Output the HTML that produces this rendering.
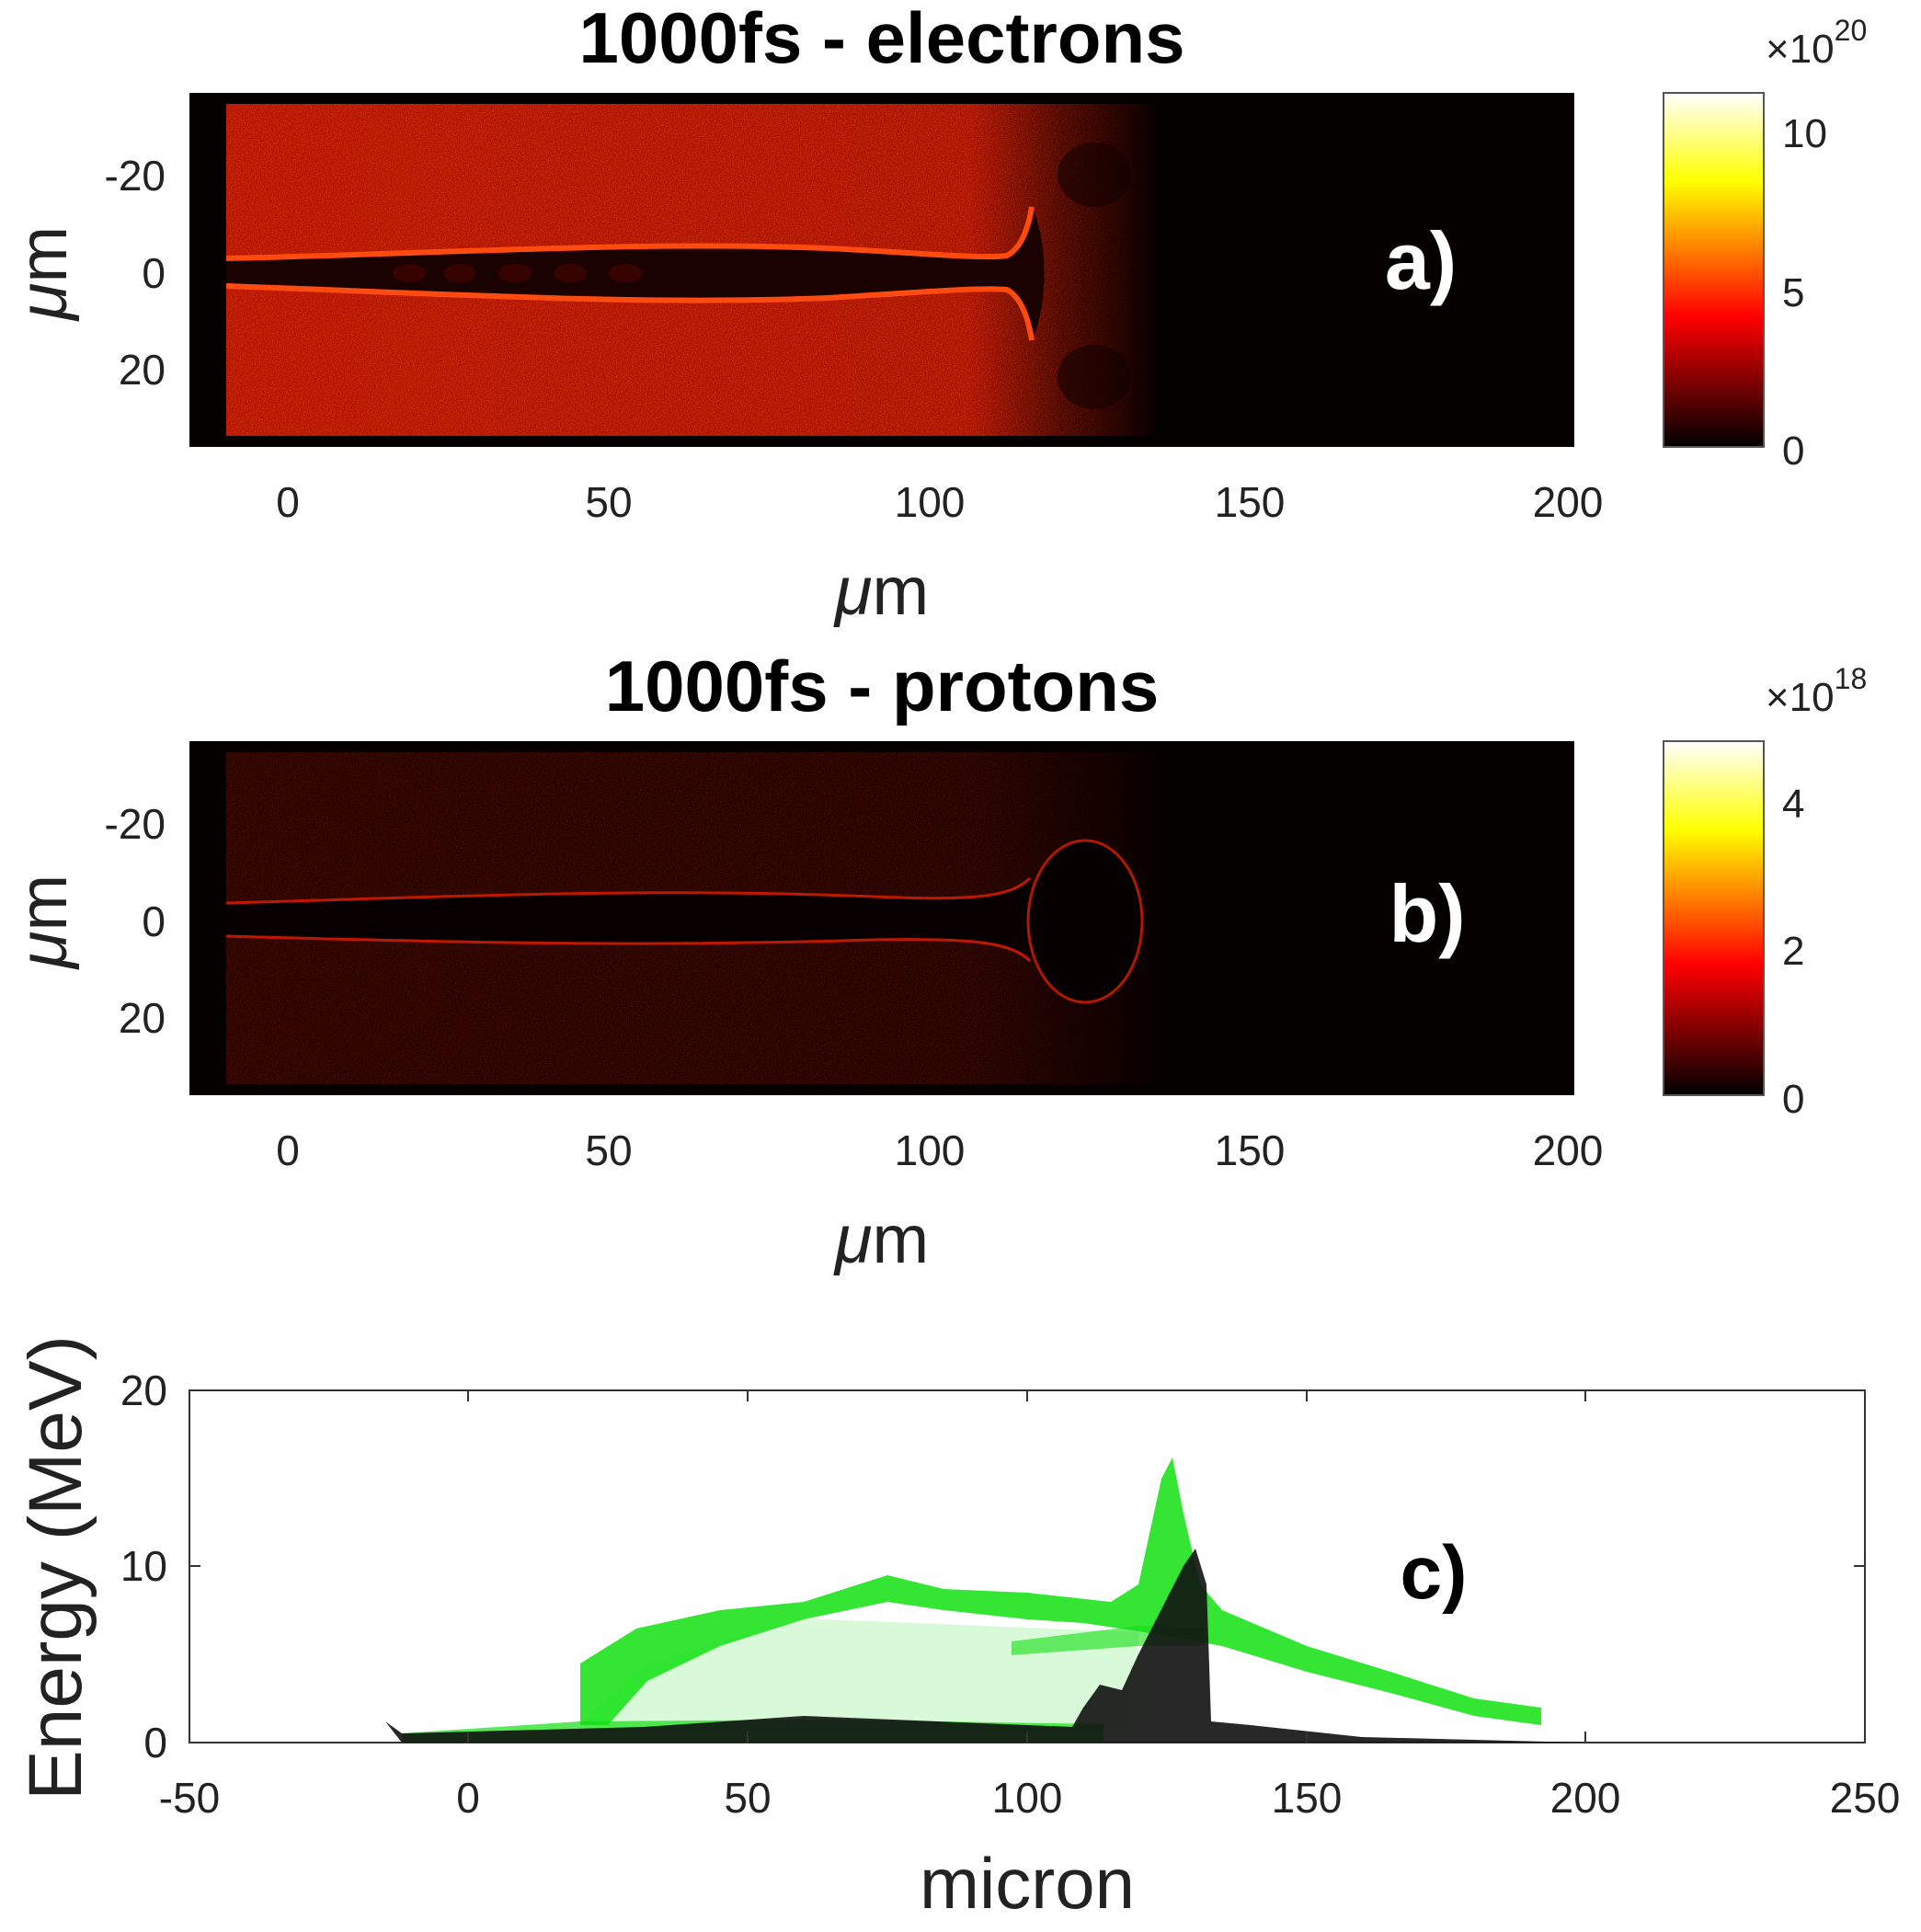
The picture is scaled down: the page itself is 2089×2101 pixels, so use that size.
<!DOCTYPE html>
<html><head><meta charset="utf-8"><style>
html,body{margin:0;padding:0;background:#fff;}
svg{display:block;font-family:"Liberation Sans",sans-serif;}
</style></head><body>
<svg width="2089" height="2101" viewBox="0 0 2089 2101" xmlns="http://www.w3.org/2000/svg">
<defs>
<linearGradient id="hot" x1="0" y1="1" x2="0" y2="0">
<stop offset="0" stop-color="#000"/><stop offset="0.37" stop-color="#f00"/><stop offset="0.75" stop-color="#ff0"/><stop offset="1" stop-color="#fff"/>
</linearGradient>
<linearGradient id="fadeE" x1="0" y1="0" x2="1" y2="0">
<stop offset="0" stop-color="#b41200"/><stop offset="0.8" stop-color="#a81000"/><stop offset="0.9" stop-color="#4a0600"/><stop offset="1" stop-color="#0a0000"/>
</linearGradient>
<linearGradient id="fadeP" x1="0" y1="0" x2="1" y2="0">
<stop offset="0" stop-color="#2a0300"/><stop offset="0.8" stop-color="#240200"/><stop offset="1" stop-color="#0a0000"/>
</linearGradient>
<linearGradient id="mg" x1="0" y1="0" x2="1" y2="0">
<stop offset="0" stop-color="#fff"/><stop offset="0.8" stop-color="#fff"/><stop offset="1" stop-color="#000"/>
</linearGradient>
<mask id="fm"><rect x="246" y="100" width="1010" height="1100" fill="url(#mg)"/></mask>
<filter id="noise" x="0" y="0" width="1" height="1">
<feTurbulence type="fractalNoise" baseFrequency="0.85" numOctaves="1" seed="4"/>
<feColorMatrix values="0 0 0 0 1  0 0 0 0 0.15  0 0 0 0 0.02  0 0 0 -2.5 1.5"/>
<feComposite in2="SourceGraphic" operator="in"/>
</filter>
</defs>

<!-- Panel a -->
<text x="959" y="68" font-size="78" font-weight="bold" text-anchor="middle">1000fs - electrons</text>
<rect x="206" y="101" width="1506" height="385" fill="#050000"/>
<rect x="246" y="113" width="1010" height="361" fill="url(#fadeE)"/>
<rect x="246" y="113" width="1010" height="361" fill="#000" filter="url(#noise)" opacity="0.45" mask="url(#fm)"/>
<!-- channel -->
<path d="M246,281 C500,275 700,262 900,270 C1000,275 1070,282 1095,278 C1110,270 1118,250 1122,225 C1140,260 1140,335 1122,370 C1118,345 1110,323 1095,315 C1070,312 1000,318 900,324 C700,332 500,320 246,311 Z" fill="#1a0200"/>
<ellipse cx="1190" cy="190" rx="40" ry="35" fill="#120100" opacity="0.6"/>
<ellipse cx="1190" cy="410" rx="40" ry="35" fill="#120100" opacity="0.6"/>
<path d="M246,281 C500,275 700,262 900,270 C1000,275 1070,282 1095,278 C1110,270 1118,250 1122,225" fill="none" stroke="#ff4a10" stroke-width="6"/>
<path d="M246,311 C500,320 700,332 900,324 C1000,318 1070,312 1095,315 C1110,323 1118,345 1122,370" fill="none" stroke="#ff4a10" stroke-width="6"/>
<g fill="#3a0400" opacity="0.9">
<ellipse cx="445" cy="297" rx="18" ry="10"/><ellipse cx="500" cy="297" rx="18" ry="10"/><ellipse cx="560" cy="297" rx="18" ry="10"/><ellipse cx="620" cy="297" rx="18" ry="10"/><ellipse cx="680" cy="297" rx="18" ry="10"/>
</g>
<text x="1545" y="314" font-size="88" font-weight="bold" fill="#fff" text-anchor="middle">a)</text>
<g font-size="46" fill="#222">
<text x="180" y="207" text-anchor="end">-20</text><text x="180" y="313" text-anchor="end">0</text><text x="180" y="418" text-anchor="end">20</text>
<text x="313" y="562" text-anchor="middle">0</text><text x="662" y="562" text-anchor="middle">50</text><text x="1011" y="562" text-anchor="middle">100</text><text x="1359" y="562" text-anchor="middle">150</text><text x="1705" y="562" text-anchor="middle">200</text>
</g>
<text x="959" y="668" font-size="74" text-anchor="middle" fill="#222"><tspan font-style="italic">μ</tspan>m</text>
<text transform="translate(72,297) rotate(-90)" font-size="74" text-anchor="middle" fill="#222"><tspan font-style="italic">μ</tspan>m</text>
<rect x="1809" y="101" width="109" height="385" fill="url(#hot)" stroke="#555" stroke-width="2"/>
<g font-size="44" fill="#222">
<text x="1938" y="160">10</text><text x="1938" y="333">5</text><text x="1938" y="505">0</text>
<text x="1920" y="68">×10<tspan font-size="32" dy="-24">20</tspan></text>
</g>

<!-- Panel b -->
<text x="959" y="773" font-size="78" font-weight="bold" text-anchor="middle">1000fs - protons</text>
<rect x="206" y="806" width="1506" height="385" fill="#050000"/>
<rect x="246" y="818" width="1010" height="361" fill="url(#fadeP)"/>
<rect x="246" y="818" width="1010" height="361" fill="#000" filter="url(#noise)" opacity="0.14" mask="url(#fm)"/>
<path d="M246,982 C500,975 700,965 950,975 C1060,980 1100,975 1120,955 L1130,1045 C1100,1025 1060,1020 950,1022 C700,1030 500,1025 246,1018 Z" fill="#080000"/>
<path d="M246,982 C500,975 700,965 950,975 C1060,980 1100,975 1120,955" fill="none" stroke="#c01800" stroke-width="3"/>
<path d="M246,1018 C500,1025 700,1030 950,1022 C1060,1020 1100,1025 1120,1045" fill="none" stroke="#c01800" stroke-width="3"/>
<ellipse cx="1180" cy="1002" rx="62" ry="88" fill="#060000" stroke="#b01800" stroke-width="3"/>
<text x="1552" y="1024" font-size="88" font-weight="bold" fill="#fff" text-anchor="middle">b)</text>
<g font-size="46" fill="#222">
<text x="180" y="912" text-anchor="end">-20</text><text x="180" y="1018" text-anchor="end">0</text><text x="180" y="1123" text-anchor="end">20</text>
<text x="313" y="1267" text-anchor="middle">0</text><text x="662" y="1267" text-anchor="middle">50</text><text x="1011" y="1267" text-anchor="middle">100</text><text x="1359" y="1267" text-anchor="middle">150</text><text x="1705" y="1267" text-anchor="middle">200</text>
</g>
<text x="959" y="1373" font-size="74" text-anchor="middle" fill="#222"><tspan font-style="italic">μ</tspan>m</text>
<text transform="translate(72,1002) rotate(-90)" font-size="74" text-anchor="middle" fill="#222"><tspan font-style="italic">μ</tspan>m</text>
<rect x="1809" y="806" width="109" height="385" fill="url(#hot)" stroke="#555" stroke-width="2"/>
<g font-size="44" fill="#222">
<text x="1938" y="889">4</text><text x="1938" y="1049">2</text><text x="1938" y="1210">0</text>
<text x="1920" y="773">×10<tspan font-size="32" dy="-24">18</tspan></text>
</g>

<!-- Panel c -->
<rect x="206" y="1512" width="1822" height="383" fill="#fff" stroke="#333" stroke-width="2"/>
<path d="M631,1876 L700,1810 L874,1760 L1117,1770 L1238,1775 L1238,1885 L631,1885 Z" fill="#00e000" opacity="0.15"/>
<path d="M631,1809 L692,1771 L783,1751 L874,1742 L965,1713 L1026,1728 L1117,1732 L1208,1742 L1238,1723 L1263,1608 L1275,1585 L1287,1646 L1305,1723 L1329,1751 L1421,1790 L1512,1818 L1603,1847 L1676,1857 L1676,1876 L1603,1866 L1512,1841 L1421,1818 L1329,1790 L1238,1774 L1178,1765 L1117,1761 L1026,1751 L965,1742 L874,1761 L783,1790 L704,1828 L661,1876 L631,1876 Z" fill="#10e010" opacity="0.85"/>
<path d="M1100,1785 L1238,1768 L1310,1770 L1310,1790 L1238,1790 L1100,1800 Z" fill="#10e010" opacity="0.6"/>
<path d="M437,1885 L631,1872 L900,1870 L1200,1875 L1200,1895 L437,1895 Z" fill="#10e010" opacity="0.7"/>
<path d="M419,1872 L437,1885 L700,1878 L874,1866 L1166,1878 L1178,1857 L1196,1832 L1220,1838 L1238,1799 L1287,1703 L1300,1684 L1312,1723 L1317,1872 L1360,1876 L1481,1889 L1724,1895 L437,1895 Z" fill="#111" opacity="0.9"/>
<g stroke="#333" stroke-width="2">
<line x1="509" y1="1512" x2="509" y2="1524"/><line x1="813" y1="1512" x2="813" y2="1524"/><line x1="1117" y1="1512" x2="1117" y2="1524"/><line x1="1421" y1="1512" x2="1421" y2="1524"/><line x1="1724" y1="1512" x2="1724" y2="1524"/>
<line x1="509" y1="1895" x2="509" y2="1883"/><line x1="813" y1="1895" x2="813" y2="1883"/><line x1="1117" y1="1895" x2="1117" y2="1883"/><line x1="1421" y1="1895" x2="1421" y2="1883"/><line x1="1724" y1="1895" x2="1724" y2="1883"/>
<line x1="206" y1="1703" x2="218" y2="1703"/><line x1="2028" y1="1703" x2="2016" y2="1703"/>
</g>
<text x="1559" y="1738" font-size="82" font-weight="bold" text-anchor="middle">c)</text>
<g font-size="46" fill="#222">
<text x="182" y="1528" text-anchor="end">20</text><text x="182" y="1719" text-anchor="end">10</text><text x="182" y="1911" text-anchor="end">0</text>
<text x="206" y="1971" text-anchor="middle">-50</text><text x="509" y="1971" text-anchor="middle">0</text><text x="813" y="1971" text-anchor="middle">50</text><text x="1117" y="1971" text-anchor="middle">100</text><text x="1421" y="1971" text-anchor="middle">150</text><text x="1724" y="1971" text-anchor="middle">200</text><text x="2028" y="1971" text-anchor="middle">250</text>
</g>
<text x="1117" y="2075" font-size="78" text-anchor="middle" fill="#222">micron</text>
<text transform="translate(88,1705) rotate(-90)" font-size="82" text-anchor="middle" fill="#222">Energy (MeV)</text>
</svg>
</body></html>
